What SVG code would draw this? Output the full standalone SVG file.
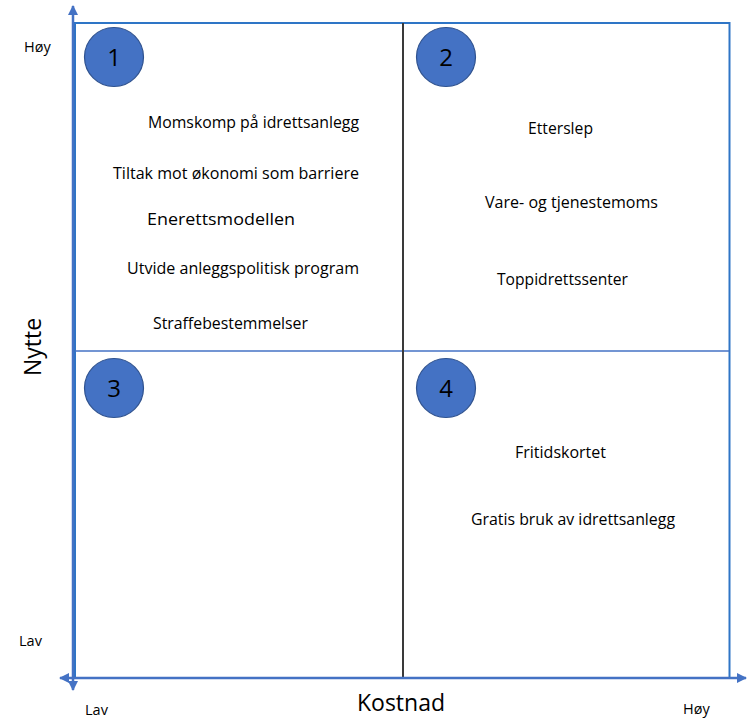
<svg xmlns="http://www.w3.org/2000/svg" width="752" height="719" viewBox="0 0 752 719">
<style>
text{font-family:"Open Sans","Liberation Sans",sans-serif;fill:#000}
.t{font-size:16px}
.ax{font-size:14.5px}
.num{font-size:24px;text-anchor:middle}
.big{font-size:23px}
.circ{fill:#4472C4;stroke:#2F528F;stroke-width:1.2}
.axis{stroke:#4472C4;stroke-width:2.5;fill:none}
</style>
<defs>
<marker id="ah" viewBox="0 0 10 10" refX="9" refY="5" markerWidth="4" markerHeight="4" orient="auto-start-reverse" markerUnits="strokeWidth">
<path d="M0,0 L10,5 L0,10 z" fill="#4472C4"/>
</marker>
</defs>
<rect width="752" height="719" fill="#fff"/>
<g id="grid">
<rect x="75" y="23" width="654.5" height="655" fill="none" stroke="#2E75C6" stroke-width="2"/>
<line x1="75" y1="351" x2="729.5" y2="351" stroke="#4472C4" stroke-width="1.5"/>
<line x1="403" y1="23" x2="403" y2="678" stroke="#3A3A3A" stroke-width="2"/>
</g>
<g id="connectors">
<line class="axis" x1="73" y1="690" x2="73" y2="6" marker-start="url(#ah)" marker-end="url(#ah)"/>
<line class="axis" x1="60" y1="678" x2="746" y2="678" marker-start="url(#ah)" marker-end="url(#ah)"/>
</g>
<g id="axis-labels">
<text class="ax" x="24" y="52">Høy</text>
<text class="ax" x="19" y="646">Lav</text>
<text class="ax" x="85" y="715">Lav</text>
<text class="ax" x="683" y="714">Høy</text>
<text class="big" x="401" y="711" text-anchor="middle">Kostnad</text>
<text class="big" transform="translate(41,347) rotate(-90)" text-anchor="middle">Nytte</text>
</g>
<g id="q1">
<circle class="circ" cx="114" cy="57" r="29.5"/>
<text class="num" x="114" y="66">1</text>
</g>
<g id="q2">
<circle class="circ" cx="446" cy="57" r="29.5"/>
<text class="num" x="446" y="66">2</text>
</g>
<g id="q3">
<circle class="circ" cx="114" cy="388" r="29.5"/>
<text class="num" x="114" y="397">3</text>
</g>
<g id="q4">
<circle class="circ" cx="446" cy="388" r="29.5"/>
<text class="num" x="446" y="397">4</text>
</g>
<g id="items">
<text class="t" x="148" y="128" textLength="211" lengthAdjust="spacingAndGlyphs">Momskomp på idrettsanlegg</text>
<text class="t" x="113" y="179" textLength="246" lengthAdjust="spacingAndGlyphs">Tiltak mot økonomi som barriere</text>
<text class="t" x="147" y="225" textLength="148" lengthAdjust="spacingAndGlyphs">Enerettsmodellen</text>
<text class="t" x="127" y="274" textLength="232" lengthAdjust="spacingAndGlyphs">Utvide anleggspolitisk program</text>
<text class="t" x="153" y="329" textLength="155" lengthAdjust="spacingAndGlyphs">Straffebestemmelser</text>
<text class="t" x="528" y="134" textLength="65" lengthAdjust="spacingAndGlyphs">Etterslep</text>
<text class="t" x="485" y="208" textLength="173" lengthAdjust="spacingAndGlyphs">Vare- og tjenestemoms</text>
<text class="t" x="497" y="285" textLength="131" lengthAdjust="spacingAndGlyphs">Toppidrettssenter</text>
<text class="t" x="515" y="458" textLength="91" lengthAdjust="spacingAndGlyphs">Fritidskortet</text>
<text class="t" x="471" y="525" textLength="204" lengthAdjust="spacingAndGlyphs">Gratis bruk av idrettsanlegg</text>
</g>
</svg>
